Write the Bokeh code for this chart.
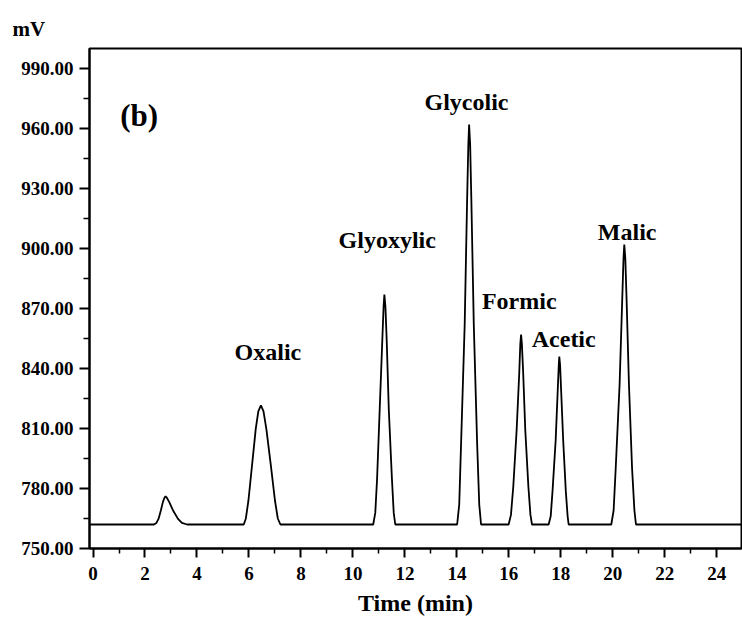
from bokeh.plotting import figure
from bokeh.models import FixedTicker, PrintfTickFormatter, Label, ColumnDataSource, Range1d
from bokeh.core.properties import value
from bokeh.embed import file_html
from bokeh.resources import INLINE

# ---- data ----
baseline_mv = 762.0
time_start = -0.135
time_end = 24.95

peak0_t = [2.34, 2.44, 2.52, 2.61, 2.69, 2.75, 2.79, 2.84, 2.93, 3.08, 3.27, 3.42, 3.62]
peak0_mv = [762, 762.8, 764.8, 769, 773.3, 775.4, 776.1, 775.4, 773.3, 769, 764.8, 762.8, 762]

oxalic_t = [5.80, 5.88, 5.98, 6.12, 6.26, 6.36, 6.46, 6.56, 6.67, 6.84, 7.00, 7.11, 7.21]
oxalic_mv = [762, 765, 774, 791.8, 809.7, 818.6, 821.6, 818.6, 809.7, 791.8, 774, 765, 762]

glyoxylic_t = [10.78, 10.86, 10.93, 11.03, 11.13, 11.18, 11.21, 11.25, 11.30, 11.38, 11.50, 11.57, 11.63]
glyoxylic_mv = [762, 767.8, 785, 819.5, 854, 871, 877, 871, 854, 819.5, 785, 767.8, 762]

glycolic_t = [14.01, 14.09, 14.16, 14.30, 14.39, 14.44, 14.47, 14.51, 14.56, 14.65, 14.78, 14.86, 14.93]
glycolic_mv = [762, 772, 802, 862, 922, 952, 962, 952, 922, 862, 802, 772, 762]

formic_t = [15.99, 16.08, 16.17, 16.30, 16.40, 16.44, 16.47, 16.50, 16.55, 16.63, 16.75, 16.83, 16.89]
formic_mv = [762, 766.8, 781, 809.5, 838, 852.3, 857, 852.3, 838, 809.5, 781, 766.8, 762]

acetic_t = [17.53, 17.61, 17.68, 17.80, 17.88, 17.92, 17.94, 17.97, 18.01, 18.09, 18.19, 18.26, 18.30]
acetic_mv = [762, 766.2, 778.8, 804, 829.2, 841.8, 846, 841.8, 829.2, 804, 778.8, 766.2, 762]

malic_t = [19.94, 20.03, 20.11, 20.26, 20.36, 20.41, 20.44, 20.48, 20.53, 20.62, 20.74, 20.83, 20.89]
malic_mv = [762, 769, 790, 832, 874, 895, 902, 895, 874, 832, 790, 769, 762]

peak_names = ["Oxalic", "Glyoxylic", "Glycolic", "Formic", "Acetic", "Malic"]

x_ticks = [0, 2, 4, 6, 8, 10, 12, 14, 16, 18, 20, 22, 24]
x_minor = [1, 3, 5, 7, 9, 11, 13, 15, 17, 19, 21, 23]
y_ticks = [750, 780, 810, 840, 870, 900, 930, 960, 990]
y_minor = [765, 795, 825, 855, 885, 915, 945, 975]

# ---- assemble the trace ----
trace_t = [time_start]
trace_mv = [baseline_mv]
for ts, vs in [(peak0_t, peak0_mv), (oxalic_t, oxalic_mv), (glyoxylic_t, glyoxylic_mv),
               (glycolic_t, glycolic_mv), (formic_t, formic_mv), (acetic_t, acetic_mv),
               (malic_t, malic_mv)]:
    trace_t += ts
    trace_mv += vs
trace_t.append(time_end)
trace_mv.append(baseline_mv)

FONT = "Liberation Serif"

p = figure(width=742, height=620,
           x_range=Range1d(time_start, time_end), y_range=Range1d(750, 1000),
           output_backend="svg", toolbar_location=None,
           min_border_left=89, min_border_right=1, min_border_top=48, min_border_bottom=72)
p.grid.visible = False
p.outline_line_color = "black"
p.outline_line_width = 2
p.outline_line_alpha = 1.0
p.background_fill_color = "white"
p.border_fill_color = "white"

p.title.text = "mV"
p.title.align = "left"
p.title.offset = -77
p.title.text_font = FONT
p.title.text_font_style = "bold"
p.title.text_font_size = "21px"
p.title.text_color = "black"
p.title.standoff = 16

p.line(trace_t, trace_mv, line_color="black", line_width=1.8)

# axes
for ax in (p.xaxis[0], p.yaxis[0]):
    ax.axis_line_color = "black"
    ax.axis_line_width = 2
    ax.major_tick_line_color = "black"
    ax.major_tick_line_width = 2
    ax.minor_tick_line_color = "black"
    ax.minor_tick_line_width = 1.5
    ax.major_tick_in = 0
    ax.minor_tick_in = 0
    ax.major_label_text_font = FONT
    ax.major_label_text_font_style = "bold"
    ax.major_label_text_color = "black"

xa = p.xaxis[0]
xa.ticker = FixedTicker(ticks=x_ticks, minor_ticks=x_minor)
xa.major_tick_out = 9
xa.minor_tick_out = 5
xa.major_label_text_font_size = "19px"
xa.major_label_standoff = 9
xa.axis_label = "Time (min)"
xa.axis_label_text_font = FONT
xa.axis_label_text_font_style = "bold"
xa.axis_label_text_font_size = "24px"
xa.axis_label_text_color = "black"
xa.axis_label_standoff = 7

ya = p.yaxis[0]
ya.ticker = FixedTicker(ticks=y_ticks, minor_ticks=y_minor)
ya.formatter = PrintfTickFormatter(format="%.2f")
ya.major_tick_out = 10
ya.minor_tick_out = 6
ya.major_label_text_font_size = "19px"
ya.major_label_standoff = 6

# peak labels
label_src = ColumnDataSource(dict(
    x=[6.73, 11.32, 14.37, 16.40, 18.11, 20.55],
    y=[848.5, 904.5, 973.5, 874.0, 854.8, 908.5],
    text=peak_names,
))
p.text(x="x", y="y", text="text", source=label_src,
       text_font=value(FONT), text_font_style="bold", text_font_size="24px",
       text_align="center", text_baseline="alphabetic", text_color="black")

p.add_layout(Label(x=1.05, y=966.6, text="(b)", text_font=FONT, text_font_style="bold",
                   text_font_size="31px", text_baseline="alphabetic", text_align="left",
                   text_color="black"))

open("out.html", "w").write(file_html(p, INLINE))
